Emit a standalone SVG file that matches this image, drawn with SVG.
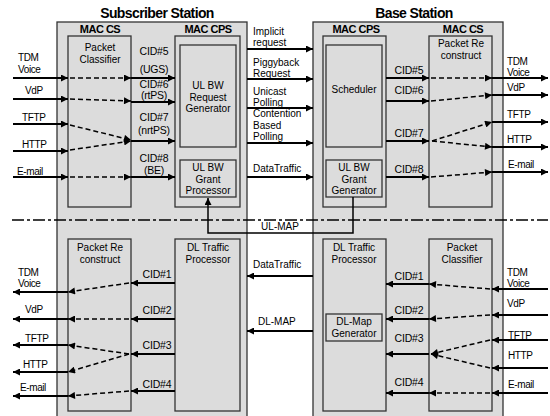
<svg xmlns="http://www.w3.org/2000/svg" width="550" height="416" viewBox="0 0 550 416">
<defs>
<marker id="ah" viewBox="0 0 10 10" refX="10" refY="5" markerWidth="8" markerHeight="7" markerUnits="userSpaceOnUse" orient="auto"><path d="M0,0 L10,5 L0,10 z" fill="#000"/></marker>
</defs>
<style>
text{font-family:"Liberation Sans",Arial,sans-serif;fill:#000}
.title{font-size:14px;font-weight:bold;text-anchor:middle;letter-spacing:-0.6px}
.mac{font-size:11px;font-weight:bold;text-anchor:middle;letter-spacing:-0.5px}
.lbl{font-size:10px;text-anchor:middle}
.cid{font-size:10.5px;text-anchor:middle;letter-spacing:-0.2px}
.io{font-size:10px;letter-spacing:-0.4px}
.mid{font-size:10px}
.box{fill:#dcdcdc;stroke:#333;stroke-width:1.3}
.s{fill:none;stroke:#000;stroke-width:2;marker-end:url(#ah)}
.d{fill:none;stroke:#000;stroke-width:1.5;stroke-dasharray:5 3;marker-end:url(#ah)}
.t{fill:none;stroke:#000;stroke-width:1.5}
</style>
<rect width="550" height="416" fill="#fff"/>
<text class="title" x="157" y="18">Subscriber Station</text>
<text class="title" x="414" y="18">Base Station</text>

<g id="ss-station">
<rect class="box" x="57" y="22" width="190" height="400"/>
<text class="mac" x="100" y="33">MAC CS</text>
<text class="mac" x="208" y="33">MAC CPS</text>
</g>
<g id="bs-station">
<rect class="box" x="313" y="22" width="190" height="400"/>
<text class="mac" x="356" y="33">MAC CPS</text>
<text class="mac" x="463" y="33">MAC CS</text>
</g>

<g id="ss-packet-classifier">
<rect class="box" x="68" y="36" width="63" height="171"/>
<text class="lbl" x="100" y="51">Packet</text>
<text class="lbl" x="100" y="62.5">Classifier</text>
</g>
<g id="ss-cps-ul">
<rect class="box" x="175" y="36" width="65" height="171"/>
</g>
<g id="ss-ulbw-request">
<rect class="box" x="180" y="45" width="56" height="102"/>
<text class="lbl" x="208" y="89">UL BW</text>
<text class="lbl" x="208" y="100.5">Request</text>
<text class="lbl" x="208" y="112">Generator</text>
</g>
<g id="ss-ulbw-grant">
<rect class="box" x="180" y="160" width="56" height="37"/>
<text class="lbl" x="208" y="171">UL BW</text>
<text class="lbl" x="208" y="182.5">Grant</text>
<text class="lbl" x="208" y="194">Processor</text>
</g>
<g id="bs-cps-ul">
<rect class="box" x="323" y="36" width="63" height="171"/>
</g>
<g id="bs-scheduler">
<rect class="box" x="326" y="45" width="56" height="102"/>
<text class="lbl" x="354" y="93">Scheduler</text>
</g>
<g id="bs-ulbw-grant">
<rect class="box" x="326" y="160" width="56" height="37"/>
<text class="lbl" x="354" y="171">UL BW</text>
<text class="lbl" x="354" y="182.5">Grant</text>
<text class="lbl" x="354" y="194">Generator</text>
</g>
<g id="bs-packet-reconstruct">
<rect class="box" x="429" y="36" width="63" height="171"/>
<text class="lbl" x="461" y="47">Packet Re</text>
<text class="lbl" x="461" y="58.5">construct</text>
</g>

<g id="ss-packet-reconstruct">
<rect class="box" x="68" y="239" width="63" height="172"/>
<text class="lbl" x="100" y="251">Packet Re</text>
<text class="lbl" x="100" y="262.5">construct</text>
</g>
<g id="ss-dl-traffic">
<rect class="box" x="175" y="239" width="65" height="172"/>
<text class="lbl" x="208" y="251">DL Traffic</text>
<text class="lbl" x="208" y="262.5">Processor</text>
</g>
<g id="bs-dl-traffic">
<rect class="box" x="323" y="239" width="63" height="172"/>
<text class="lbl" x="354" y="251">DL Traffic</text>
<text class="lbl" x="354" y="262.5">Processor</text>
</g>
<g id="bs-dlmap-gen">
<rect class="box" x="326" y="314" width="56" height="27"/>
<text class="lbl" x="354" y="325">DL-Map</text>
<text class="lbl" x="354" y="336.5">Generator</text>
</g>
<g id="bs-packet-classifier">
<rect class="box" x="429" y="239" width="63" height="172"/>
<text class="lbl" x="462" y="251">Packet</text>
<text class="lbl" x="462" y="262.5">Classifier</text>
</g>

<g id="connectors">
<line x1="12" y1="220" x2="548" y2="220" stroke="#000" stroke-width="1.5" stroke-dasharray="12 3 3 3"/>
<path class="s" d="M13,78H68"/><path class="d" d="M70,78L131,78"/><path class="s" d="M131,78H175"/>
<path class="s" d="M13,99H68"/><path class="d" d="M70,99L131,101"/><path class="s" d="M131,102H175"/>
<path class="s" d="M13,124H68"/><path class="d" d="M70,125L131,140"/>
<path class="s" d="M13,151H68"/><path class="d" d="M70,150L131,141"/><path class="s" d="M131,141H175"/>
<path class="s" d="M13,177H68"/><path class="d" d="M70,177L131,177"/><path class="s" d="M131,177H175"/>
<path class="s" d="M247,49H313"/>
<path class="s" d="M247,79H313"/>
<path class="s" d="M247,108H313"/>
<path class="s" d="M247,143H313"/>
<path class="s" d="M247,177H313"/>
<path class="t" d="M353,197V233H208V198" marker-end="url(#ah)"/>
<path class="s" d="M386,78H429"/><path class="d" d="M431,78L492,78"/><path class="s" d="M492,78H548"/>
<path class="s" d="M386,101H429"/><path class="d" d="M431,101L492,95"/><path class="s" d="M492,95H548"/>
<path class="s" d="M386,141H429"/><path class="d" d="M432,141L492,122"/><path class="d" d="M432,141L492,147"/><path class="s" d="M492,122H548"/><path class="s" d="M492,147H548"/>
<path class="s" d="M386,177H429"/><path class="d" d="M431,177L492,172"/><path class="s" d="M492,172H548"/>
<path class="s" d="M313,276H247"/>
<path class="s" d="M313,331H247"/>
<path class="s" d="M548,289H492"/><path class="d" d="M490,289L429,284"/><path class="s" d="M429,284H386"/>
<path class="s" d="M548,315H492"/><path class="d" d="M490,315L429,319"/><path class="s" d="M429,319H386"/>
<path class="s" d="M548,340H492"/><path class="s" d="M548,368H492"/><path class="d" d="M490,340L431,354"/><path class="d" d="M490,368L431,354"/><path class="s" d="M429,354H386"/>
<path class="s" d="M548,393H492"/><path class="d" d="M490,393L429,393"/><path class="s" d="M429,393H386"/>
<path class="s" d="M175,283H131"/><path class="d" d="M129,283L68,292"/><path class="s" d="M68,292H13"/>
<path class="s" d="M175,319H131"/><path class="d" d="M129,319L68,319"/><path class="s" d="M68,319H13"/>
<path class="s" d="M175,354H131"/><path class="d" d="M129,354L68,345"/><path class="d" d="M129,354L68,372"/><path class="s" d="M68,345H13"/><path class="s" d="M68,372H13"/>
<path class="s" d="M175,391H131"/><path class="d" d="M129,391L68,396"/><path class="s" d="M68,396H13"/>
</g>

<g id="labels">
<text class="io" x="18" y="61">TDM</text><text class="io" x="18" y="73">Voice</text>
<text class="io" x="25" y="94">VdP</text>
<text class="io" x="22" y="121">TFTP</text>
<text class="io" x="22" y="148">HTTP</text>
<text class="io" x="17" y="175">E-mail</text>
<text class="cid" x="154" y="55">CID#5</text><text class="cid" x="154" y="73">(UGS)</text>
<text class="cid" x="154" y="88">CID#6</text><text class="cid" x="154" y="99">(rtPS)</text>
<text class="cid" x="154" y="121">CID#7</text><text class="cid" x="154" y="134">(nrtPS)</text>
<text class="cid" x="154" y="162">CID#8</text><text class="cid" x="154" y="174">(BE)</text>
<text class="mid" x="253" y="34.5">Implicit</text><text class="mid" x="253" y="46">request</text>
<text class="mid" x="253" y="65.5">Piggyback</text><text class="mid" x="253" y="77">Request</text>
<text class="mid" x="253" y="94.5">Unicast</text><text class="mid" x="253" y="106">Polling</text>
<text class="mid" x="253" y="117">Contention</text><text class="mid" x="253" y="128.5">Based</text><text class="mid" x="253" y="140">Polling</text>
<text class="mid" x="253" y="172">DataTraffic</text>
<text class="mid" x="280" y="230" text-anchor="middle">UL-MAP</text>
<text class="mid" x="253" y="268">DataTraffic</text>
<text class="mid" x="258" y="325">DL-MAP</text>
<text class="cid" x="409" y="74">CID#5</text>
<text class="cid" x="409" y="94">CID#6</text>
<text class="cid" x="409" y="137">CID#7</text>
<text class="cid" x="409" y="173">CID#8</text>
<text class="io" x="507" y="64.5">TDM</text><text class="io" x="507" y="76">Voice</text>
<text class="io" x="507" y="91">VdP</text>
<text class="io" x="507" y="118">TFTP</text>
<text class="io" x="507" y="143">HTTP</text>
<text class="io" x="508" y="168">E-mail</text>
<text class="cid" x="409" y="280">CID#1</text>
<text class="cid" x="409" y="314">CID#2</text>
<text class="cid" x="409" y="342">CID#3</text>
<text class="cid" x="409" y="386">CID#4</text>
<text class="io" x="507" y="275.5">TDM</text><text class="io" x="507" y="287">Voice</text>
<text class="io" x="507" y="307">VdP</text>
<text class="io" x="508" y="339">TFTP</text>
<text class="io" x="508" y="359">HTTP</text>
<text class="io" x="508" y="388">E-mail</text>
<text class="cid" x="157" y="278">CID#1</text>
<text class="cid" x="157" y="314">CID#2</text>
<text class="cid" x="157" y="349">CID#3</text>
<text class="cid" x="157" y="388">CID#4</text>
<text class="io" x="18" y="275.5">TDM</text><text class="io" x="18" y="287">Voice</text>
<text class="io" x="25" y="313">VdP</text>
<text class="io" x="25" y="342">TFTP</text>
<text class="io" x="23" y="368">HTTP</text>
<text class="io" x="20" y="391">E-mail</text>
</g>
</svg>
